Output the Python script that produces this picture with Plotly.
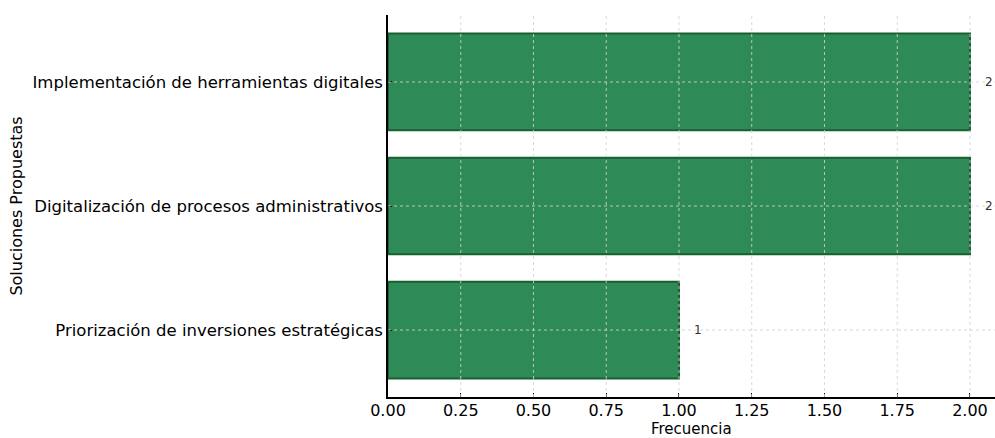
import plotly.graph_objects as go

# Propuestas y su frecuencia
soluciones = [
    "Priorización de inversiones estratégicas",
    "Digitalización de procesos administrativos",
    "Implementación de herramientas digitales",
]
frecuencias = [1, 2, 2]
x_ticks = [0.0, 0.25, 0.5, 0.75, 1.0, 1.25, 1.5, 1.75, 2.0]

FONT = "DejaVu Sans"
y_pos = list(range(len(soluciones)))

fig = go.Figure()
fig.add_trace(go.Bar(
    x=frecuencias,
    y=y_pos,
    orientation="h",
    width=0.78,
    marker=dict(color="#2E8B57", line=dict(color="#17602F", width=2)),
    hoverinfo="skip",
    showlegend=False,
))

# Etiquetas de valor junto a cada barra
for yi, v in zip(y_pos, frecuencias):
    fig.add_annotation(
        x=v + 0.066, y=yi, xref="x", yref="y",
        text=str(v), showarrow=False, xanchor="center",
        font=dict(family=FONT, size=12, color="#333333"),
    )

# Título del eje X colocado bajo las etiquetas de marca
fig.add_annotation(
    x=0.5, y=0, xref="paper", yref="paper",
    text="Frecuencia", showarrow=False,
    xanchor="center", yanchor="top", yshift=-21,
    font=dict(family=FONT, size=15, color="black"),
)

# Rejilla punteada dibujada por encima de las barras
grid = dict(color="rgba(210,210,210,0.85)", width=1, dash="dot")
for t in x_ticks[1:]:
    fig.add_shape(type="line", xref="x", yref="paper", x0=t, x1=t, y0=0, y1=1,
                  line=grid, layer="above")
for yi in y_pos:
    fig.add_shape(type="line", xref="paper", yref="y", x0=0, x1=1, y0=yi, y1=yi,
                  line=grid, layer="above")

fig.update_layout(
    width=995, height=438,
    margin=dict(l=388, r=0, t=15, b=41),
    plot_bgcolor="white",
    paper_bgcolor="white",
    font=dict(family=FONT, size=16, color="black"),
    bargap=0.2,
)
fig.update_xaxes(
    range=[0, 2.086],
    tickvals=x_ticks,
    ticktext=[f"{t:.2f}" for t in x_ticks],
    showgrid=False, zeroline=False,
    showline=True, linecolor="black", linewidth=1.5,
    ticks="inside", ticklen=4, tickcolor="black",
    tickfont=dict(size=16),
    ticklabelstandoff=-2,
)
fig.update_yaxes(
    range=[-0.54, 2.54],
    tickvals=y_pos,
    ticktext=soluciones,
    showgrid=False, zeroline=False,
    showline=True, linecolor="black", linewidth=1.5,
    ticks="inside", ticklen=4, tickcolor="black",
    tickfont=dict(size=16.5),
    title=dict(text="Soluciones Propuestas", font=dict(size=16), standoff=6),
)

fig.write_html("out.html")
